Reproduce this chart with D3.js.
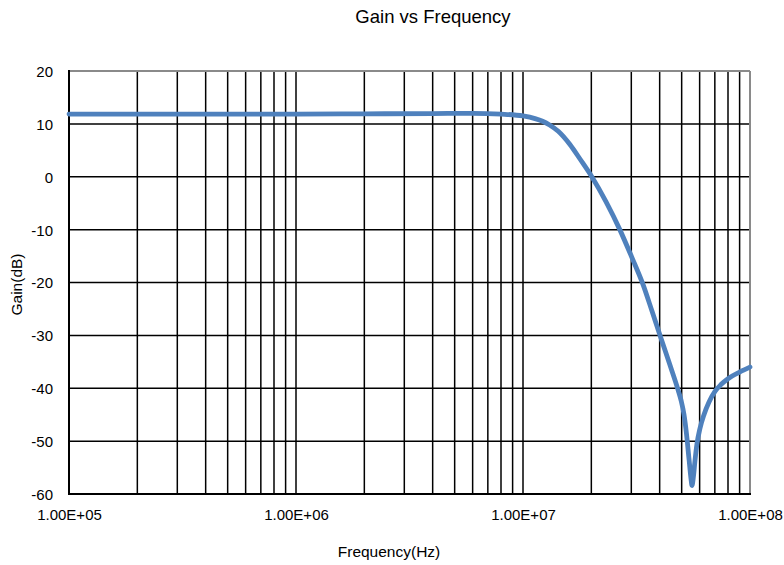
<!DOCTYPE html>
<html>
<head>
<meta charset="utf-8">
<script src="https://cdn.jsdelivr.net/npm/d3@7"></script>
<style>
  html, body { margin: 0; padding: 0; background: #fff; }
  svg { display: block; font-family: "Liberation Sans", Arial, sans-serif; }
</style>
</head>
<body>
<svg id="chart" width="784" height="565"></svg>
<script>
// ---- data ----
const freqHz = [1e5, 3e5, 1e6, 2e6, 4e6, 6e6, 8e6, 1e7, 1.13e7, 1.22e7, 1.31e7, 1.43e7, 1.61e7, 1.78e7,
  2.01e7, 2.32e7, 2.67e7, 3.02e7, 3.38e7, 3.70e7, 4.05e7, 4.44e7, 4.82e7, 4.97e7, 5.12e7, 5.25e7,
  5.39e7, 5.50e7, 5.55e7, 5.64e7, 5.72e7, 5.84e7, 6.02e7, 6.27e7, 6.60e7, 7.01e7, 7.45e7,
  8.00e7, 9.03e7, 1e8];
const gainDb = [11.85, 11.85, 11.85, 11.9, 11.95, 12.0, 11.85, 11.5, 11.0, 10.5, 9.8, 8.6, 6.1, 3.4,
  0, -4.7, -10, -15.3, -20.4, -25.4, -30.5, -35.6, -40.3, -42.3, -45.0, -48.6,
  -53.5, -57.2, -58.4, -56.5, -53.8, -50.5, -47.6, -45.0, -42.6, -40.6, -39.3,
  -38.2, -36.9, -36.0];
const xTickValues = [1e5, 1e6, 1e7, 1e8];
const xTickLabels = ["1.00E+05", "1.00E+06", "1.00E+07", "1.00E+08"];
const yTickValues = [-60, -50, -40, -30, -20, -10, 0, 10, 20];
const titleText = "Gain vs Frequency";
const xTitle = "Frequency(Hz)";
const yTitle = "Gain(dB)";

// ---- layout ----
const L = 69, R = 750, T = 71, B = 494;
const svg = d3.select("#chart");

const x = d3.scaleLog().domain([1e5, 1e8]).range([L, R]);
const y = d3.scaleLinear().domain([-60, 20]).range([B, T]);

// gridlines
const g = svg.append("g");
g.selectAll("line.vg").data(x.ticks()).join("line")
  .attr("x1", d => x(d)).attr("x2", d => x(d))
  .attr("y1", T).attr("y2", B)
  .attr("stroke", "#000").attr("stroke-width", 1.5);
g.selectAll("line.hg").data(yTickValues).join("line")
  .attr("x1", L).attr("x2", R)
  .attr("y1", d => y(d)).attr("y2", d => y(d))
  .attr("stroke", "#000").attr("stroke-width", 1.5);

// frame: top/right gray, left/bottom black
svg.append("line").attr("x1", L).attr("x2", R).attr("y1", T).attr("y2", T)
  .attr("stroke", "#8a8a8a").attr("stroke-width", 2);
svg.append("line").attr("x1", R).attr("x2", R).attr("y1", T).attr("y2", B)
  .attr("stroke", "#8a8a8a").attr("stroke-width", 2);
svg.append("line").attr("x1", L).attr("x2", L).attr("y1", T - 1).attr("y2", B + 1)
  .attr("stroke", "#000").attr("stroke-width", 2);
svg.append("line").attr("x1", L - 1).attr("x2", R + 1).attr("y1", B).attr("y2", B)
  .attr("stroke", "#000").attr("stroke-width", 2);

// axes labels via d3 axes
const xAxis = d3.axisBottom(x).tickValues(xTickValues)
  .tickFormat((d, i) => xTickLabels[i]).tickSize(0).tickPadding(0);
const xa = svg.append("g").attr("transform", `translate(0,${B})`).call(xAxis);
xa.select(".domain").remove();
xa.selectAll("text").attr("y", 26).attr("dy", 0)
  .attr("font-size", 15).attr("fill", "#000").attr("font-family", '"Liberation Sans", Arial, sans-serif');

const yAxis = d3.axisLeft(y).tickValues(yTickValues).tickFormat(d => String(d)).tickSize(0).tickPadding(0);
const ya = svg.append("g").attr("transform", `translate(53,0)`).call(yAxis);
ya.select(".domain").remove();
ya.selectAll("text").attr("x", 0).attr("dy", "0.36em")
  .attr("font-size", 15).attr("fill", "#000").attr("font-family", '"Liberation Sans", Arial, sans-serif');

// curve
const data = freqHz.map((f, i) => ({ f, g: gainDb[i] }));
const line = d3.line().x(d => x(d.f)).y(d => y(d.g)).curve(d3.curveMonotoneX);
svg.append("path").datum(data).attr("d", line)
  .attr("fill", "none").attr("stroke", "#4f81bd").attr("stroke-width", 4.8)
  .attr("stroke-linejoin", "round").attr("stroke-linecap", "round");

// titles
svg.append("text").attr("x", 433).attr("y", 23).attr("text-anchor", "middle")
  .attr("font-size", 18.5).attr("fill", "#000").text(titleText);
svg.append("text").attr("x", 389).attr("y", 557).attr("text-anchor", "middle")
  .attr("font-size", 15.5).attr("fill", "#000").text(xTitle);
svg.append("text").attr("transform", "translate(21.5,284.5) rotate(-90)")
  .attr("text-anchor", "middle").attr("font-size", 15.5).attr("fill", "#000").text(yTitle);
</script>
</body>
</html>
